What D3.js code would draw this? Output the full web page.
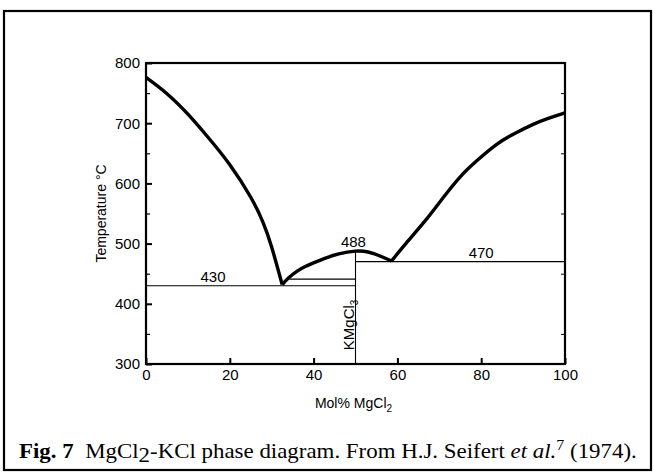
<!DOCTYPE html>
<html>
<head>
<meta charset="utf-8">
<script src="https://cdn.jsdelivr.net/npm/d3@7"></script>
<style>
  body { margin: 0; background: #fff; }
  text { fill: #000; }
</style>
</head>
<body>
<div id="phase-diagram"></div>
<script>
// liquidus branches, [mol% MgCl2, temperature C]
var kclBranch = [[0, 776], [5, 749], [10, 715], [15, 675], [20, 631], [25, 577], [28, 534], [30, 494], [32.5, 432]];
var domeBranch = [[32.5, 432], [34, 443], [36, 454], [38, 462], [40, 468], [42.5, 475], [46, 483], [50, 487.5], [53, 486], [56, 479], [58.6, 471]];
var mgcl2Branch = [[58.6, 471], [62, 500], [67, 541], [71, 577], [75, 611], [79, 638], [83.7, 665], [88, 683], [92.4, 698], [96, 708], [100, 717]];

// thin construction lines: [x1, t1, x2, t2]
var thinLines = [[0, 430, 50, 430], [34.2, 441, 50, 441], [50, 470, 100, 470], [50, 300, 50, 488]];

var pointLabels = [{x: 16, t: 430, text: "430"}, {x: 49.5, t: 488, text: "488"}, {x: 80, t: 470, text: "470"}];

var xTicks = [0, 20, 40, 60, 80, 100];
var yTicks = [300, 400, 500, 600, 700, 800];
var yMinor = [350, 450, 550, 650, 750];

function drawDiagram() {
    var W = 653, H = 476;
    var margin = {top: 63, right: 88, bottom: 112, left: 146},
        width = 565 - margin.left,
        height = 364 - margin.top;

    var root = d3.select("#phase-diagram")
        .append("svg")
        .attr("width", W)
        .attr("height", H);

    // outer figure frame
    root.append("rect")
        .attr("x", 4).attr("y", 11)
        .attr("width", 647).attr("height", 459)
        .attr("fill", "none")
        .attr("stroke", "#000")
        .attr("stroke-width", 2.2);

    var svg = root.append("g")
        .attr("transform", "translate(" + margin.left + "," + margin.top + ")");

    var x = d3.scaleLinear().domain([0, 100]).range([0, width]);
    var y = d3.scaleLinear().domain([300, 800]).range([height, 0]);

    // x axis: inward ticks
    svg.append("g")
        .attr("transform", "translate(0," + height + ")")
        .call(d3.axisBottom(x).tickValues(xTicks).tickSizeInner(-6).tickSizeOuter(0).tickPadding(5))
        .call(function (g) {
            g.select(".domain").remove();
            g.selectAll("line").attr("stroke-width", 2);
            g.selectAll("text").attr("font-family", "Liberation Sans, Arial, sans-serif").attr("font-size", 15);
        });

    // y axis: major and minor inward ticks
    svg.append("g")
        .call(d3.axisLeft(y).tickValues(yTicks).tickSizeInner(-6).tickSizeOuter(0).tickPadding(6))
        .call(function (g) {
            g.select(".domain").remove();
            g.selectAll("line").attr("stroke-width", 2);
            g.selectAll("text").attr("font-family", "Liberation Sans, Arial, sans-serif").attr("font-size", 15);
        });
    svg.append("g")
        .call(d3.axisLeft(y).tickValues(yMinor).tickSizeInner(-4).tickSizeOuter(0).tickFormat(""))
        .call(function (g) { g.select(".domain").remove(); g.selectAll("line").attr("stroke-width", 1.2); });
    svg.append("g")
        .attr("transform", "translate(" + width + ",0)")
        .call(d3.axisRight(y).tickValues(yMinor).tickSizeInner(-4).tickSizeOuter(0).tickFormat(""))
        .call(function (g) { g.select(".domain").remove(); g.selectAll("line").attr("stroke-width", 1); });

    // plot frame
    svg.append("rect")
        .attr("width", width).attr("height", height)
        .attr("fill", "none")
        .attr("stroke", "#000")
        .attr("stroke-width", 2.2);

    // thin lines
    svg.append("g")
        .selectAll("line")
        .data(thinLines)
        .enter()
        .append("line")
        .attr("x1", function (d) { return x(d[0]); })
        .attr("y1", function (d) { return y(d[1]); })
        .attr("x2", function (d) { return x(d[2]); })
        .attr("y2", function (d) { return y(d[3]); })
        .attr("stroke", "#000")
        .attr("stroke-width", 1.1);

    // liquidus
    var line = d3.line()
        .x(function (d) { return x(d[0]); })
        .y(function (d) { return y(d[1]); })
        .curve(d3.curveNatural);

    svg.append("g")
        .selectAll("path")
        .data([kclBranch, domeBranch, mgcl2Branch])
        .enter()
        .append("path")
        .attr("d", line)
        .attr("fill", "none")
        .attr("stroke", "#000")
        .attr("stroke-width", 3.4)
        .attr("stroke-linejoin", "round");

    // temperature labels
    svg.append("g")
        .selectAll("text")
        .data(pointLabels)
        .enter()
        .append("text")
        .attr("x", function (d) { return x(d.x); })
        .attr("y", function (d) { return y(d.t) - 4; })
        .attr("text-anchor", "middle")
        .attr("font-family", "Liberation Sans, Arial, sans-serif")
        .attr("font-size", 15)
        .text(function (d) { return d.text; });

    // compound label
    var comp = svg.append("text")
        .attr("transform", "translate(" + (x(50) - 2) + "," + (y(323)) + ") rotate(-90)")
        .attr("font-family", "Liberation Sans, Arial, sans-serif")
        .attr("font-size", 15);
    comp.append("tspan").text("KMgCl");
    comp.append("tspan").attr("font-size", 10).attr("dy", 4).text("3");

    // axis titles
    svg.append("text")
        .attr("transform", "rotate(-90)")
        .attr("x", -height / 2)
        .attr("y", -40)
        .attr("text-anchor", "middle")
        .attr("font-family", "Liberation Sans, Arial, sans-serif")
        .attr("font-size", 14)
        .text("Temperature °C");

    var xt = svg.append("text")
        .attr("x", width / 2 - 2)
        .attr("y", height + 44)
        .attr("text-anchor", "middle")
        .attr("font-family", "Liberation Sans, Arial, sans-serif")
        .attr("font-size", 14);
    xt.append("tspan").text("Mol% MgCl");
    xt.append("tspan").attr("font-size", 10).attr("dy", 4).text("2");

    // caption
    var cap = root.append("text")
        .attr("x", 19)
        .attr("y", 458)
        .attr("xml:space", "preserve")
        .style("white-space", "pre")
        .attr("font-family", "Liberation Serif, Times New Roman, serif")
        .attr("font-size", 21.5);
    cap.append("tspan").attr("font-weight", "bold").text("Fig. 7");
    cap.append("tspan").text("  MgCl");
    cap.append("tspan").attr("dy", 4).text("2");
    cap.append("tspan").attr("dy", -4).text("-KCl phase diagram. From H.J. Seifert ");
    cap.append("tspan").attr("font-style", "italic").text("et al.");
    cap.append("tspan").attr("dy", -8).attr("font-size", 15).text("7");
    cap.append("tspan").attr("dy", 8).text(" (1974).");

    // fit caption to the width it has in the figure
    var capW = cap.node().getBBox().width;
    cap.attr("transform", "translate(19,458) scale(" + (618 / capW) + ",1) translate(-19,-458)");
}

drawDiagram();
</script>
</body>
</html>
